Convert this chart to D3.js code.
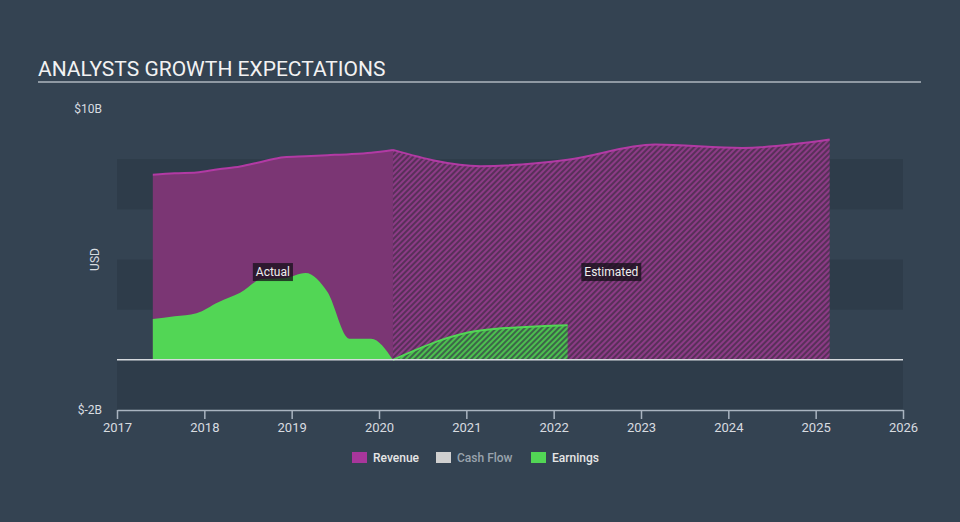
<!DOCTYPE html>
<html>
<head>
<meta charset="utf-8">
<script src="https://cdn.jsdelivr.net/npm/d3@7"></script>
<style>
    body { margin: 0; background: #344352; }
    text { font-family: Roboto, 'Open Sans', sans-serif; }
</style>
</head>
<body>
<script>
const width = 960,
    height = 522;

// fiscal years end late february, so points sit at x.16
const revenue_years = [2017.41, 2017.66, 2017.91, 2018.16, 2018.41, 2018.66, 2018.91, 2019.16, 2019.41, 2019.66, 2019.91, 2020.16];
const revenue_actual = [7.38, 7.44, 7.47, 7.6, 7.71, 7.9, 8.08, 8.12, 8.16, 8.2, 8.26, 8.37];
const revenue_est_years = [2020.16, 2021.16, 2022.16, 2023.16, 2024.16, 2025.16];
const revenue_est = [8.37, 7.72, 7.98, 8.58, 8.45, 8.78];

const earnings_years = revenue_years;
const earnings_actual = [1.63, 1.74, 1.86, 2.3, 2.67, 3.22, 3.25, 3.46, 2.7, 0.84, 0.84, 0];
const earnings_est_years = [2020.16, 2021.16, 2022.16];
const earnings_est = [0, 1.17, 1.38];

const year_ticks = [2017, 2018, 2019, 2020, 2021, 2022, 2023, 2024, 2025, 2026];
const y_labels = [{v: 10, t: '$10B'}, {v: -2, t: '$-2B'}];
const legend_items = [
    {name: 'Revenue', color: '#a8369b', text: '#e6e6e6'},
    {name: 'Cash Flow', color: '#d0d0d0', text: '#9aa3ad'},
    {name: 'Earnings', color: '#52d655', text: '#e6e6e6'}
];

function zip(xs, ys) {
    return xs.map((x, i) => ({x: x, y: ys[i]}));
}

const x = d3.scaleLinear().domain([2017, 2026]).range([117, 903]);
const y = d3.scaleLinear().domain([-2, 10]).range([410, 109]);

const svg = d3.select('body')
    .append('svg')
    .attr('width', width)
    .attr('height', height)
    .style('display', 'block');

const defs = svg.append('defs');

function hatch(id, bg, fg) {
    const p = defs.append('pattern')
        .attr('id', id)
        .attr('patternUnits', 'userSpaceOnUse')
        .attr('width', 4)
        .attr('height', 4)
        .attr('patternTransform', 'rotate(45)');
    p.append('rect')
        .attr('width', 4)
        .attr('height', 4)
        .attr('fill', bg);
    p.append('rect')
        .attr('width', 2)
        .attr('height', 4)
        .attr('fill', fg);
}
hatch('hatch_revenue', '#583059', '#8c3b86');
hatch('hatch_earnings', '#3d6549', '#4cbf4e');

// title
svg.append('text')
    .attr('x', 38)
    .attr('y', 76)
    .attr('fill', '#f2f2f2')
    .style('font-size', '21px')
    .text('ANALYSTS GROWTH EXPECTATIONS');

svg.append('line')
    .attr('x1', 38)
    .attr('x2', 921)
    .attr('y1', 82)
    .attr('y2', 82)
    .attr('stroke', '#aeb6bf')
    .attr('stroke-width', 1.5);

// darker bands every other 2B
svg.append('g')
    .selectAll('rect')
    .data([8, 4, 0])
    .enter().append('rect')
    .attr('x', x(2017))
    .attr('width', x(2026) - x(2017))
    .attr('y', d => y(d))
    .attr('height', d => y(d - 2) - y(d))
    .attr('fill', '#2e3c4a');

const area = d3.area()
    .x(d => x(d.x))
    .y0(y(0))
    .y1(d => y(d.y))
    .curve(d3.curveMonotoneX);

const line = d3.line()
    .x(d => x(d.x))
    .y(d => y(d.y))
    .curve(d3.curveMonotoneX);

const rev_a = zip(revenue_years, revenue_actual),
    rev_e = zip(revenue_est_years, revenue_est),
    earn_a = zip(earnings_years, earnings_actual),
    earn_e = zip(earnings_est_years, earnings_est);

svg.append('path')
    .attr('d', area(rev_a))
    .attr('fill', '#7b3674');

svg.append('path')
    .attr('d', area(rev_e))
    .attr('fill', 'url(#hatch_revenue)');

svg.append('path')
    .attr('d', line(rev_a))
    .attr('fill', 'none')
    .attr('stroke', '#b23aa4')
    .attr('stroke-width', 2);

svg.append('path')
    .attr('d', line(rev_e))
    .attr('fill', 'none')
    .attr('stroke', '#b23aa4')
    .attr('stroke-width', 2);

svg.append('path')
    .attr('d', area(earn_a))
    .attr('fill', '#52d655');

svg.append('path')
    .attr('d', area(earn_e))
    .attr('fill', 'url(#hatch_earnings)');

svg.append('path')
    .attr('d', line(earn_e))
    .attr('fill', 'none')
    .attr('stroke', '#52d655')
    .attr('stroke-width', 2);

// zero line
svg.append('line')
    .attr('x1', x(2017))
    .attr('x2', x(2026))
    .attr('y1', y(0))
    .attr('y2', y(0))
    .attr('stroke', '#d6dade')
    .attr('stroke-width', 1.5);

// actual / estimated tags
function tag(label, cx, cy) {
    const g = svg.append('g');
    const t = g.append('text')
        .attr('x', cx)
        .attr('y', cy + 4)
        .attr('text-anchor', 'middle')
        .attr('fill', '#eeeeee')
        .style('font-size', '12px')
        .text(label);
    const b = t.node().getBBox();
    g.insert('rect', 'text')
        .attr('x', b.x - 3)
        .attr('y', cy - 9)
        .attr('width', b.width + 6)
        .attr('height', 18)
        .attr('fill', 'rgba(20, 16, 24, 0.75)');
}
tag('Actual', (x(revenue_years[0]) + x(2020.16)) / 2, y(3.5));
tag('Estimated', (x(2020.16) + x(revenue_est_years[revenue_est_years.length - 1])) / 2, y(3.5));

// x axis
const xaxis = svg.append('g')
    .attr('transform', 'translate(0,' + y(-2) + ')')
    .call(d3.axisBottom(x)
        .tickValues(year_ticks)
        .tickFormat(d3.format('d'))
        .tickSize(9)
        .tickSizeOuter(0)
        .tickPadding(4));
xaxis.select('.domain')
    .attr('stroke', '#a9b4c0')
    .attr('stroke-width', 1.5);
xaxis.selectAll('.tick line')
    .attr('stroke', '#a9b4c0')
    .attr('stroke-width', 1.5);
xaxis.selectAll('.tick text')
    .attr('fill', '#d8dce0')
    .style('font-size', '13px')
    .style('font-family', 'Roboto, sans-serif');

// y labels
svg.append('g')
    .selectAll('text')
    .data(y_labels)
    .enter().append('text')
    .attr('x', 102)
    .attr('y', d => y(d.v) + 4)
    .attr('text-anchor', 'end')
    .attr('fill', '#d8dce0')
    .style('font-size', '12px')
    .text(d => d.t);

svg.append('text')
    .attr('transform', 'translate(99,' + y(4) + ') rotate(-90)')
    .attr('text-anchor', 'middle')
    .attr('fill', '#d8dce0')
    .style('font-size', '12px')
    .text('USD');

// legend
const legend_x = [352, 436, 531];
const legend = svg.append('g')
    .selectAll('g')
    .data(legend_items)
    .enter().append('g')
    .attr('transform', (d, i) => 'translate(' + legend_x[i] + ',452)');
legend.append('rect')
    .attr('width', 15)
    .attr('height', 11)
    .attr('fill', d => d.color);
legend.append('text')
    .attr('x', 21)
    .attr('y', 10)
    .attr('fill', d => d.text)
    .style('font-size', '12px')
    .style('font-weight', 500)
    .text(d => d.name);
</script>
</body>
</html>
